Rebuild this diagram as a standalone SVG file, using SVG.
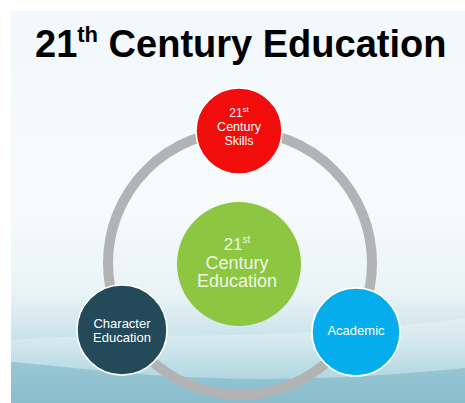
<svg xmlns="http://www.w3.org/2000/svg" width="465" height="403" viewBox="0 0 465 403">
  <style>
    text { font-family: "Liberation Sans", Arial, sans-serif; }
    .title { font-size: 38px; font-weight: bold; fill: #000; }
    .lbl { fill: #ffffff; text-anchor: middle; }
    .soft { fill: #eef7e4; }
    .node { stroke: #ffffff; stroke-width: 1.5; }
    .ring { fill: none; stroke: #b1b3b5; stroke-width: 10; }
  </style>
  <defs>
    <linearGradient id="bg" x1="0" y1="0" x2="0" y2="1">
      <stop offset="0" stop-color="#f2f8fb"/>
      <stop offset="0.5" stop-color="#f7fbfc"/>
      <stop offset="0.72" stop-color="#e9f3f6"/>
      <stop offset="0.84" stop-color="#c8e2ea"/>
      <stop offset="0.93" stop-color="#9ccbd8"/>
      <stop offset="1" stop-color="#80b9ca"/>
    </linearGradient>
  </defs>

  <!-- page and slide background -->
  <rect x="0" y="0" width="465" height="403" fill="#ffffff"/>
  <rect x="11" y="11" width="454" height="392" fill="url(#bg)"/>
  <!-- soft waves along the bottom -->
  <path d="M11,340 C120,330 260,345 465,318 L465,403 L11,403 Z" fill="#ffffff" opacity="0.25"/>
  <path d="M11,362 C110,370 230,392 465,368 L465,403 L11,403 Z" fill="#78b3c5" opacity="0.55"/>

  <!-- title -->
  <text class="title" x="35" y="57">21<tspan font-size="22" dy="-15">th</tspan><tspan dy="15"> Century Education</tspan></text>

  <!-- connecting ring -->
  <g id="connectors">
    <circle class="ring" cx="240" cy="263" r="132"/>
  </g>

  <g id="node-skills">
    <circle class="node" cx="239" cy="131" r="43" fill="#f20d0d"/>
    <text class="lbl" x="239" y="116.5" font-size="12">21<tspan font-size="8" dy="-5">st</tspan></text>
    <text class="lbl" x="239" y="131" font-size="12.5">Century</text>
    <text class="lbl" x="239" y="145" font-size="12.5">Skills</text>
  </g>

  <g id="node-center">
    <circle cx="239" cy="264" r="62" fill="#8dc641"/>
    <text class="lbl soft" x="237" y="250" font-size="17">21<tspan font-size="10" dy="-7">st</tspan></text>
    <text class="lbl soft" x="237" y="268.5" font-size="18">Century</text>
    <text class="lbl soft" x="237" y="287" font-size="18">Education</text>
  </g>

  <g id="node-character">
    <circle class="node" cx="122" cy="330" r="45" fill="#244a5a"/>
    <text class="lbl" x="122" y="327.5" font-size="13">Character</text>
    <text class="lbl" x="122" y="342" font-size="13">Education</text>
  </g>

  <g id="node-academic">
    <circle class="node" cx="356" cy="332" r="44" fill="#05adec"/>
    <text class="lbl" x="356" y="335" font-size="13">Academic</text>
  </g>
</svg>
